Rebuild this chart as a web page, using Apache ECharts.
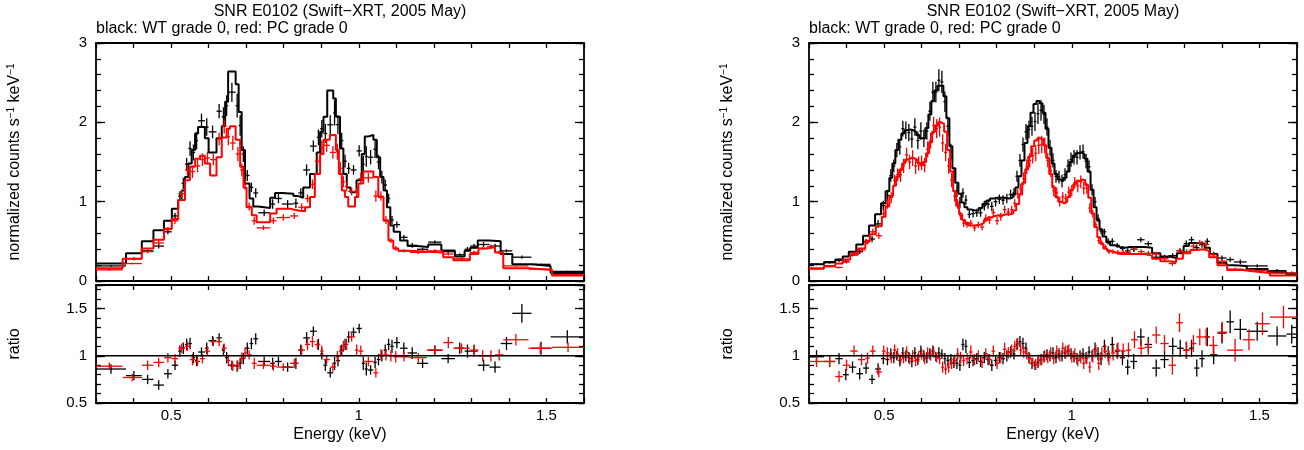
<!DOCTYPE html>
<html><head><meta charset="utf-8">
<script src="https://cdn.jsdelivr.net/npm/echarts@6/dist/echarts.min.js"></script>
<style>html,body{margin:0;padding:0;background:#fff}#c{width:1304px;height:450px}</style>
</head><body><div id="c"></div>
<script>
// ---------- texts ----------
const titleText = 'SNR E0102 (Swift\u2212XRT, 2005 May)';
const subtitleText = 'black: WT grade 0, red: PC grade 0';
const xTitle = 'Energy (keV)';
const yTitleTop = 'normalized counts s{sup|\u22121} keV{sup|\u22121}';
const yTitleBot = 'ratio';
const xTickLabels = [0.5, 1, 1.5];
const yTopTickLabels = [0, 1, 2, 3];
const yRatioTickLabels = [0.5, 1, 1.5];
const ratioUnity = 1;

// ---------- left panel, black (WT) ----------
const lbE = [0.340,0.401,0.4375,0.467,0.4915,0.5105,0.5235,0.5325,0.5415,0.5505,
 0.5595,0.568,0.581,0.595,0.6105,0.628,0.6395,0.648,0.662,0.676,
 0.684,0.6925,0.703,0.714,0.7255,0.748,0.7705,0.786,0.8105,0.8325,
 0.8455,0.861,0.879,0.8925,0.9015,0.911,0.924,0.9355,0.9445,0.9545,
 0.9635,0.973,0.986,1.001,1.012,1.020,1.0315,1.0435,1.0525,1.0615,
 1.0705,1.0795,1.0885,1.1015,1.120,1.1425,1.170,1.2025,1.238,1.269,
 1.2895,1.307,1.3325,1.363,1.3935,1.4345,1.4855,1.5555];
const lbW = [0.040,0.021,0.0155,0.014,0.0105,0.0085,0.0045,0.0045,0.0045,0.0045,
 0.0045,0.004,0.009,0.005,0.0105,0.007,0.0045,0.004,0.010,0.004,
 0.004,0.0045,0.006,0.005,0.0065,0.016,0.0065,0.009,0.0155,0.0065,
 0.0065,0.009,0.009,0.0045,0.0045,0.005,0.008,0.0035,0.0055,0.0045,
 0.0045,0.005,0.008,0.007,0.004,0.004,0.0075,0.0045,0.0045,0.0045,
 0.0045,0.0045,0.0045,0.0085,0.010,0.0125,0.015,0.0175,0.018,0.013,
 0.0075,0.010,0.0155,0.015,0.0155,0.0255,0.0255,0.0445];
const lbModel = [0.22,0.35,0.50,0.64,0.76,0.91,1.02,1.14,1.31,1.48,
 1.65,1.86,1.94,1.80,1.62,1.80,1.95,2.26,2.64,2.48,
 2.13,1.65,1.23,1.04,0.94,0.92,1.05,1.11,1.10,1.07,
 1.05,1.18,1.35,1.62,1.88,2.07,2.40,2.30,2.07,1.67,
 1.35,1.18,1.12,1.27,1.60,1.82,1.84,1.78,1.56,1.31,
 1.14,0.93,0.70,0.62,0.51,0.44,0.43,0.46,0.385,0.31,
 0.38,0.42,0.51,0.50,0.34,0.21,0.19,0.10];
const lbData = [0.19,0.28,0.38,0.44,0.62,0.82,1.07,1.23,1.47,1.67,
 1.62,1.77,2.02,1.94,1.88,2.14,2.07,2.21,2.38,2.21,
 1.96,1.60,1.33,1.18,1.11,0.86,0.97,1.04,0.97,0.98,
 1.11,1.40,1.70,1.81,1.92,1.86,1.97,2.12,1.97,1.77,
 1.51,1.42,1.40,1.64,1.47,1.57,1.56,1.66,1.50,1.31,
 1.21,1.04,0.77,0.71,0.55,0.45,0.40,0.49,0.37,0.33,
 0.40,0.44,0.46,0.44,0.38,0.30,0.21,0.12];
const lbErr = [0.01,0.02,0.02,0.03,0.03,0.04,0.06,0.07,0.08,0.09,
 0.10,0.11,0.09,0.11,0.08,0.09,0.12,0.13,0.12,0.15,
 0.13,0.10,0.07,0.06,0.06,0.04,0.06,0.06,0.05,0.06,
 0.06,0.07,0.07,0.10,0.11,0.12,0.12,0.16,0.12,0.10,
 0.08,0.07,0.06,0.07,0.11,0.13,0.09,0.11,0.09,0.08,
 0.07,0.06,0.05,0.04,0.03,0.03,0.02,0.02,0.02,0.02,
 0.03,0.03,0.03,0.03,0.02,0.02,0.01,0.01];
const lbRatio = [0.86,0.79,0.75,0.69,0.81,0.90,1.05,1.08,1.12,1.13,
 0.98,0.95,1.04,1.08,1.16,1.19,1.06,0.98,0.90,0.89,
 0.92,0.97,1.08,1.13,1.18,0.94,0.92,0.94,0.88,0.92,
 1.06,1.19,1.26,1.12,1.02,0.90,0.82,0.92,0.95,1.06,
 1.12,1.20,1.25,1.29,0.92,0.86,0.85,0.93,0.96,1.00,
 1.06,1.12,1.10,1.14,1.08,1.03,0.92,1.06,0.97,1.08,
 1.05,1.05,0.90,0.88,1.13,1.45,1.08,1.20];
const lbRatioErr = [0.05,0.05,0.05,0.05,0.05,0.05,0.06,0.06,0.06,0.06,
 0.06,0.06,0.05,0.06,0.05,0.05,0.06,0.06,0.05,0.06,
 0.06,0.06,0.06,0.06,0.06,0.05,0.06,0.05,0.05,0.06,
 0.06,0.06,0.05,0.06,0.06,0.06,0.05,0.07,0.06,0.06,
 0.06,0.06,0.05,0.05,0.07,0.07,0.05,0.06,0.06,0.06,
 0.06,0.06,0.07,0.06,0.06,0.06,0.05,0.05,0.05,0.06,
 0.07,0.06,0.06,0.06,0.07,0.10,0.07,0.07];

// ---------- left panel, red (PC) ----------
const lrE = [0.3355,0.3965,0.4375,0.467,0.4915,0.5105,0.528,0.5435,0.557,0.5705,
 0.5835,0.597,0.6125,0.628,0.6415,0.6525,0.6645,0.678,0.6885,0.697,
 0.708,0.7215,0.746,0.7725,0.799,0.828,0.848,0.8635,0.8765,0.890,
 0.9015,0.9145,0.931,0.943,0.951,0.959,0.9675,0.981,0.9945,1.0055,
 1.0255,1.0455,1.059,1.0725,1.0855,1.0985,1.1205,1.1585,1.203,1.2385,
 1.274,1.3075,1.330,1.352,1.374,1.4185,1.4835,1.5575];
const lrW = [0.0355,0.0255,0.0155,0.014,0.0105,0.0085,0.009,0.0065,0.007,0.0065,
 0.0065,0.007,0.0085,0.007,0.0065,0.0045,0.0075,0.006,0.0045,0.004,
 0.007,0.0065,0.018,0.0085,0.018,0.011,0.009,0.0065,0.0065,0.007,
 0.0045,0.0085,0.008,0.004,0.004,0.004,0.0045,0.009,0.0045,0.0065,
 0.0135,0.0065,0.007,0.0065,0.0065,0.0065,0.0155,0.0225,0.022,0.0135,
 0.022,0.0115,0.011,0.011,0.011,0.0335,0.0315,0.0425];
const lrModel = [0.16,0.28,0.41,0.52,0.66,0.78,1.02,1.27,1.44,1.54,
 1.58,1.48,1.33,1.56,1.81,1.92,1.95,1.78,1.44,1.18,
 0.93,0.83,0.74,0.85,0.91,0.89,0.88,0.93,1.06,1.35,
 1.60,1.78,1.84,1.65,1.35,1.14,1.06,0.94,1.06,1.23,
 1.38,1.31,1.06,0.76,0.51,0.41,0.38,0.37,0.36,0.30,
 0.26,0.34,0.41,0.43,0.36,0.16,0.14,0.07];
const lrData = [0.14,0.22,0.37,0.48,0.65,0.76,1.10,1.40,1.38,1.45,
 1.53,1.55,1.53,1.79,1.95,1.82,1.74,1.60,1.40,1.22,
 0.94,0.76,0.67,0.76,0.80,0.82,0.93,1.04,1.22,1.51,
 1.68,1.71,1.62,1.63,1.42,1.25,1.19,1.13,1.12,1.29,
 1.30,1.07,1.07,0.77,0.51,0.41,0.38,0.36,0.38,0.34,
 0.28,0.36,0.41,0.43,0.36,0.19,0.15,0.08];
const lrErr = [0.01,0.01,0.02,0.03,0.03,0.04,0.05,0.07,0.08,0.08,
 0.08,0.08,0.07,0.08,0.09,0.11,0.09,0.09,0.08,0.07,
 0.05,0.05,0.03,0.04,0.04,0.04,0.05,0.05,0.06,0.07,
 0.09,0.08,0.08,0.10,0.08,0.07,0.06,0.05,0.06,0.07,
 0.06,0.07,0.06,0.05,0.03,0.03,0.02,0.02,0.02,0.02,
 0.02,0.02,0.02,0.03,0.02,0.01,0.01,0.01];
const lrRatio = [0.89,0.77,0.90,0.93,0.98,0.97,1.08,1.10,0.96,0.94,
 0.97,1.05,1.15,1.15,1.08,0.95,0.89,0.90,0.975,1.03,
 1.01,0.92,0.90,0.89,0.88,0.92,1.06,1.12,1.15,1.12,
 1.05,0.96,0.88,0.99,1.05,1.10,1.12,1.20,1.06,1.05,
 0.94,0.82,1.01,1.01,1.00,0.99,0.99,0.98,1.06,1.14,
 1.08,1.06,1.00,1.00,1.01,1.17,1.08,1.09];
const lrRatioErr = [0.04,0.04,0.05,0.05,0.05,0.05,0.05,0.05,0.06,0.05,
 0.05,0.05,0.05,0.05,0.05,0.06,0.05,0.05,0.06,0.06,
 0.05,0.06,0.04,0.05,0.04,0.05,0.05,0.06,0.06,0.05,
 0.06,0.05,0.05,0.06,0.06,0.06,0.06,0.05,0.06,0.06,
 0.05,0.05,0.06,0.06,0.06,0.06,0.05,0.05,0.05,0.06,
 0.05,0.06,0.06,0.06,0.06,0.06,0.06,0.05];

// ---------- right panel, black (WT) ----------
const rbE = [0.320,0.355,0.380,0.398,0.416,0.435,0.452,0.468,0.484,0.498,
 0.509,0.518,0.526,0.534,0.542,0.550,0.558,0.566,0.574,0.582,
 0.590,0.598,0.606,0.614,0.622,0.630,0.638,0.646,0.654,0.662,
 0.670,0.678,0.686,0.694,0.702,0.710,0.718,0.727,0.737,0.747,
 0.757,0.767,0.777,0.787,0.797,0.807,0.817,0.827,0.837,0.846,
 0.854,0.862,0.870,0.878,0.886,0.894,0.902,0.910,0.918,0.926,
 0.934,0.942,0.950,0.958,0.966,0.974,0.982,0.990,0.998,1.006,
 1.014,1.022,1.030,1.038,1.046,1.054,1.062,1.070,1.078,1.087,
 1.097,1.108,1.121,1.135,1.149,1.165,1.184,1.204,1.225,1.247,
 1.269,1.289,1.305,1.319,1.333,1.347,1.361,1.378,1.400,1.422,
 1.449,1.494,1.547,1.586];
const rbW = [0.020,0.015,0.010,0.008,0.010,0.009,0.008,0.008,0.008,0.006,
 0.005,0.004,0.004,0.004,0.004,0.004,0.004,0.004,0.004,0.004,
 0.004,0.004,0.004,0.004,0.004,0.004,0.004,0.004,0.004,0.004,
 0.004,0.004,0.004,0.004,0.004,0.004,0.004,0.005,0.005,0.005,
 0.005,0.005,0.005,0.005,0.005,0.005,0.005,0.005,0.005,0.004,
 0.004,0.004,0.004,0.004,0.004,0.004,0.004,0.004,0.004,0.004,
 0.004,0.004,0.004,0.004,0.004,0.004,0.004,0.004,0.004,0.004,
 0.004,0.004,0.004,0.004,0.004,0.004,0.004,0.004,0.004,0.005,
 0.005,0.006,0.007,0.007,0.007,0.009,0.010,0.010,0.011,0.011,
 0.011,0.009,0.007,0.007,0.007,0.007,0.007,0.010,0.012,0.010,
 0.017,0.028,0.025,0.014];
const rbModel = [0.21,0.24,0.27,0.31,0.37,0.46,0.57,0.70,0.84,0.98,
 1.13,1.30,1.48,1.65,1.78,1.86,1.90,1.91,1.90,1.88,
 1.84,1.80,1.80,1.93,2.10,2.27,2.40,2.46,2.46,2.33,
 2.05,1.70,1.42,1.24,1.10,0.99,0.93,0.90,0.89,0.89,
 0.92,0.97,1.01,1.04,1.05,1.05,1.05,1.04,1.05,1.09,
 1.18,1.32,1.52,1.74,1.95,2.12,2.23,2.27,2.24,2.12,
 1.92,1.68,1.48,1.35,1.28,1.26,1.30,1.38,1.50,1.58,
 1.61,1.62,1.60,1.54,1.38,1.15,0.93,0.77,0.65,0.56,
 0.49,0.45,0.43,0.42,0.43,0.43,0.43,0.42,0.35,0.31,
 0.29,0.35,0.44,0.48,0.48,0.47,0.42,0.34,0.23,0.20,
 0.19,0.15,0.11,0.08];
const rbData = [0.21,0.23,0.26,0.25,0.33,0.37,0.50,0.53,0.72,0.95,
 1.08,1.33,1.45,1.65,1.69,1.92,1.90,1.87,1.79,1.94,
 1.77,1.89,1.80,1.89,2.14,2.38,2.38,2.53,2.51,2.26,
 1.95,1.63,1.32,1.14,0.99,1.11,1.02,0.84,0.85,0.86,
 0.86,0.95,0.97,0.94,1.00,1.03,1.02,1.04,1.09,1.11,
 1.32,1.52,1.72,1.88,1.91,1.95,2.01,2.11,2.15,2.10,
 1.94,1.68,1.52,1.32,1.31,1.26,1.34,1.45,1.53,1.56,
 1.56,1.62,1.63,1.51,1.44,1.15,1.00,0.79,0.63,0.62,
 0.50,0.50,0.45,0.41,0.38,0.40,0.52,0.47,0.30,0.30,
 0.32,0.38,0.47,0.52,0.42,0.46,0.50,0.34,0.29,0.27,
 0.24,0.19,0.13,0.10];
const rbErr = [0.01,0.01,0.02,0.02,0.02,0.03,0.03,0.04,0.05,0.06,
 0.07,0.08,0.08,0.09,0.10,0.10,0.11,0.11,0.11,0.11,
 0.11,0.11,0.11,0.11,0.12,0.13,0.13,0.14,0.14,0.13,
 0.12,0.10,0.09,0.08,0.07,0.06,0.06,0.05,0.05,0.05,
 0.05,0.06,0.06,0.06,0.06,0.06,0.06,0.06,0.06,0.06,
 0.07,0.08,0.09,0.10,0.11,0.12,0.12,0.13,0.13,0.12,
 0.11,0.10,0.09,0.08,0.08,0.08,0.08,0.08,0.09,0.09,
 0.09,0.09,0.09,0.09,0.08,0.07,0.06,0.05,0.04,0.04,
 0.04,0.04,0.03,0.03,0.03,0.03,0.03,0.03,0.03,0.03,
 0.03,0.03,0.04,0.04,0.04,0.04,0.04,0.03,0.03,0.03,
 0.03,0.02,0.02,0.02];
const rbRatio = [0.99,0.94,0.97,0.80,0.88,0.81,0.87,0.75,0.86,0.97,
 0.96,1.02,0.98,1.00,0.95,1.03,1.00,0.98,0.94,1.03,
 0.96,1.05,1.00,0.98,1.02,1.05,0.99,1.03,1.02,0.97,
 0.95,0.96,0.93,0.92,0.90,1.12,1.10,0.93,0.95,0.97,
 0.94,0.98,0.96,0.90,0.95,0.98,0.97,1.00,1.04,1.02,
 1.12,1.15,1.13,1.08,0.98,0.92,0.90,0.93,0.96,0.99,
 1.01,1.00,1.03,0.98,1.02,1.00,1.03,1.05,1.02,0.99,
 0.97,1.00,1.02,0.98,1.04,1.00,1.07,1.02,0.97,1.10,
 1.02,1.12,1.05,0.98,0.88,0.94,1.20,1.12,0.87,0.96,
 1.10,1.08,1.06,1.08,0.87,0.97,1.20,1.01,1.24,1.36,
 1.28,1.26,1.21,1.23];
const rbRatioErr = [0.07,0.06,0.06,0.06,0.06,0.06,0.06,0.05,0.06,0.06,
 0.06,0.06,0.06,0.05,0.06,0.06,0.06,0.06,0.06,0.06,
 0.06,0.06,0.06,0.06,0.06,0.06,0.05,0.06,0.05,0.06,
 0.06,0.06,0.06,0.06,0.06,0.06,0.07,0.06,0.06,0.06,
 0.06,0.06,0.06,0.06,0.06,0.06,0.06,0.06,0.06,0.06,
 0.06,0.06,0.06,0.06,0.06,0.06,0.05,0.06,0.06,0.06,
 0.06,0.06,0.06,0.06,0.06,0.06,0.06,0.06,0.06,0.06,
 0.06,0.06,0.06,0.06,0.06,0.06,0.07,0.07,0.07,0.07,
 0.08,0.08,0.08,0.08,0.08,0.08,0.09,0.08,0.09,0.09,
 0.09,0.09,0.09,0.09,0.09,0.09,0.10,0.10,0.11,0.12,
 0.11,0.10,0.10,0.10];

// ---------- right panel, red (PC) ----------
const rrE = [0.320,0.355,0.380,0.400,0.420,0.440,0.456,0.470,0.486,0.499,
 0.509,0.519,0.528,0.536,0.544,0.552,0.560,0.568,0.576,0.584,
 0.592,0.600,0.608,0.616,0.624,0.632,0.640,0.648,0.656,0.664,
 0.672,0.680,0.688,0.696,0.704,0.712,0.721,0.731,0.741,0.751,
 0.761,0.771,0.781,0.791,0.801,0.811,0.821,0.831,0.840,0.848,
 0.856,0.864,0.872,0.880,0.888,0.896,0.904,0.912,0.920,0.928,
 0.936,0.944,0.952,0.960,0.968,0.976,0.984,0.992,1.000,1.008,
 1.016,1.024,1.032,1.040,1.048,1.056,1.064,1.072,1.080,1.089,
 1.099,1.110,1.123,1.137,1.151,1.167,1.185,1.204,1.225,1.247,
 1.268,1.287,1.306,1.324,1.341,1.358,1.377,1.401,1.435,1.472,
 1.508,1.564];
const rrW = [0.020,0.015,0.010,0.010,0.010,0.010,0.006,0.008,0.008,0.005,
 0.005,0.005,0.004,0.004,0.004,0.004,0.004,0.004,0.004,0.004,
 0.004,0.004,0.004,0.004,0.004,0.004,0.004,0.004,0.004,0.004,
 0.004,0.004,0.004,0.004,0.004,0.004,0.005,0.005,0.005,0.005,
 0.005,0.005,0.005,0.005,0.005,0.005,0.005,0.005,0.004,0.004,
 0.004,0.004,0.004,0.004,0.004,0.004,0.004,0.004,0.004,0.004,
 0.004,0.004,0.004,0.004,0.004,0.004,0.004,0.004,0.004,0.004,
 0.004,0.004,0.004,0.004,0.004,0.004,0.004,0.004,0.004,0.005,
 0.005,0.006,0.007,0.007,0.007,0.009,0.009,0.010,0.011,0.011,
 0.010,0.009,0.010,0.008,0.009,0.008,0.011,0.013,0.021,0.016,
 0.020,0.036];
const rrModel = [0.16,0.19,0.22,0.27,0.33,0.41,0.50,0.59,0.69,0.81,
 0.94,1.07,1.20,1.31,1.40,1.48,1.53,1.55,1.55,1.53,
 1.49,1.46,1.50,1.61,1.75,1.88,1.96,2.00,1.98,1.88,
 1.65,1.38,1.13,0.95,0.84,0.77,0.73,0.70,0.70,0.71,
 0.73,0.77,0.80,0.82,0.83,0.83,0.84,0.84,0.85,0.89,
 0.97,1.09,1.24,1.41,1.57,1.70,1.77,1.80,1.79,1.71,
 1.55,1.35,1.18,1.06,1.00,0.98,1.00,1.06,1.15,1.22,
 1.26,1.28,1.27,1.21,1.05,0.85,0.68,0.55,0.47,0.41,
 0.38,0.36,0.34,0.34,0.34,0.34,0.34,0.32,0.28,0.25,
 0.24,0.28,0.35,0.39,0.40,0.38,0.30,0.20,0.14,0.12,
 0.10,0.07];
const rrData = [0.15,0.18,0.17,0.24,0.35,0.39,0.49,0.62,0.57,0.85,
 0.97,1.05,1.27,1.34,1.34,1.45,1.59,1.50,1.55,1.45,
 1.48,1.49,1.46,1.66,1.77,1.96,1.92,1.94,1.74,1.62,
 1.45,1.27,1.07,0.97,0.82,0.73,0.71,0.73,0.67,0.71,
 0.68,0.79,0.77,0.86,0.76,0.81,0.90,0.87,0.90,0.98,
 1.10,1.16,1.29,1.44,1.52,1.58,1.61,1.71,1.72,1.71,
 1.52,1.39,1.14,1.11,1.00,1.06,1.04,1.12,1.14,1.24,
 1.20,1.25,1.17,1.17,0.92,0.85,0.71,0.51,0.48,0.43,
 0.37,0.37,0.36,0.36,0.36,0.40,0.37,0.35,0.34,0.28,
 0.22,0.38,0.37,0.44,0.48,0.46,0.33,0.25,0.15,0.14,
 0.13,0.10];
const rrErr = [0.01,0.01,0.01,0.02,0.02,0.03,0.03,0.04,0.04,0.05,
 0.06,0.07,0.07,0.08,0.09,0.09,0.09,0.09,0.10,0.10,
 0.09,0.09,0.09,0.10,0.10,0.11,0.12,0.12,0.11,0.11,
 0.10,0.09,0.07,0.06,0.05,0.05,0.04,0.04,0.04,0.04,
 0.04,0.05,0.05,0.05,0.05,0.05,0.05,0.05,0.05,0.05,
 0.06,0.07,0.08,0.09,0.09,0.10,0.10,0.11,0.11,0.10,
 0.09,0.08,0.07,0.07,0.06,0.06,0.06,0.07,0.07,0.07,
 0.08,0.08,0.08,0.07,0.06,0.05,0.04,0.04,0.03,0.03,
 0.03,0.03,0.03,0.03,0.03,0.03,0.03,0.03,0.03,0.03,
 0.03,0.03,0.03,0.04,0.04,0.04,0.03,0.03,0.02,0.02,
 0.02,0.01];
const rrRatio = [0.94,0.94,0.78,0.90,1.05,0.96,0.975,1.05,0.83,1.05,
 1.03,0.98,1.06,1.02,0.96,0.98,1.04,0.97,1.00,0.95,
 0.99,1.02,0.97,1.03,1.01,1.04,0.98,0.97,0.88,0.86,
 0.88,0.92,0.95,1.02,0.98,0.95,0.97,1.04,0.96,1.00,
 0.93,1.02,0.96,1.05,0.92,0.98,1.07,1.03,1.06,1.10,
 1.13,1.06,1.04,1.02,0.97,0.93,0.91,0.95,0.96,1.00,
 0.98,1.03,0.97,1.05,1.00,1.08,1.04,1.06,0.99,1.02,
 0.95,0.98,0.92,0.97,0.88,1.00,1.05,0.92,1.02,1.05,
 0.98,1.03,1.06,1.05,1.06,1.17,1.08,1.09,1.22,1.13,
 0.90,1.35,1.06,1.13,1.20,1.20,1.11,1.25,1.06,1.17,
 1.34,1.41];
const rrRatioErr = [0.06,0.06,0.06,0.06,0.06,0.06,0.06,0.06,0.06,0.06,
 0.06,0.06,0.06,0.06,0.05,0.06,0.06,0.06,0.06,0.06,
 0.06,0.06,0.06,0.06,0.06,0.06,0.05,0.06,0.06,0.06,
 0.06,0.06,0.06,0.06,0.06,0.06,0.06,0.07,0.06,0.06,
 0.06,0.06,0.06,0.06,0.06,0.06,0.07,0.06,0.06,0.06,
 0.06,0.06,0.06,0.06,0.06,0.05,0.06,0.06,0.06,0.06,
 0.06,0.06,0.06,0.06,0.06,0.06,0.07,0.06,0.06,0.06,
 0.06,0.06,0.06,0.06,0.06,0.07,0.07,0.07,0.07,0.07,
 0.08,0.08,0.08,0.08,0.08,0.09,0.09,0.09,0.09,0.09,
 0.10,0.10,0.09,0.09,0.09,0.09,0.10,0.11,0.12,0.11,
 0.12,0.12];

// ---------- build ----------
const FONT = '"Liberation Sans", Arial, Helvetica, sans-serif';
const BLACK = '#000000', RED = '#ff0000';
const X_MIN = 0.3, X_MAX = 1.6;

function near(v, list) { for (const t of list) { if (Math.abs(v - t) < 1e-6) return String(t); } return ''; }

function stepPoints(E, W, M) {
  const pts = [];
  for (let i = 0; i < E.length; i++) { pts.push([E[i] - W[i], M[i]], [E[i] + W[i], M[i]]); }
  return pts;
}
function crossRows(E, W, V, Er) { return E.map((e, i) => [e, W[i], V[i], Er[i]]); }
function crossRenderer(color, lw) {
  return function (params, api) {
    const e = api.value(0), w = api.value(1), v = api.value(2), er = api.value(3);
    const a = api.coord([e - w, v]), b = api.coord([e + w, v]);
    const c = api.coord([e, v + er]), d = api.coord([e, v - er]);
    const st = { stroke: color, lineWidth: lw, fill: null };
    return { type: 'group', children: [
      { type: 'line', shape: { x1: a[0], y1: a[1], x2: b[0], y2: b[1] }, style: st },
      { type: 'line', shape: { x1: c[0], y1: c[1], x2: d[0], y2: d[1] }, style: st }
    ]};
  };
}

const grids = [
  { left: 96, top: 43, width: 488, height: 238 },
  { left: 96, top: 285, width: 488, height: 118 },
  { left: 809, top: 43, width: 488, height: 238 },
  { left: 809, top: 285, width: 488, height: 118 }
].map(g => Object.assign({ containLabel: false, outerBoundsMode: 'none' }, g));

const frameLine = { show: true, onZero: false, lineStyle: { color: BLACK, width: 1.8 } };
const xAxes = [], yAxes = [];
for (let g = 0; g < 4; g++) {
  const isBottom = (g % 2 === 1);
  const base = { type: 'value', gridIndex: g, min: X_MIN, max: X_MAX, interval: 0.1,
    splitLine: { show: false }, axisLine: frameLine,
    axisTick: { show: true, inside: true, length: 5, lineStyle: { color: BLACK, width: 1.3 } } };
  xAxes.push(Object.assign({}, base, { position: 'bottom',
    axisLabel: { show: isBottom, interval: 0, margin: 5, color: BLACK, fontSize: 15, fontFamily: FONT,
      formatter: v => near(v, xTickLabels) } }));
  xAxes.push(Object.assign({}, base, { position: 'top', axisLabel: { show: false } }));

  const min = isBottom ? 0.5 : 0, max = isBottom ? 1.75 : 3;
  const major = isBottom ? 0.5 : 1, minor = isBottom ? 0.1 : 0.2;
  const labels = isBottom ? yRatioTickLabels : yTopTickLabels;
  const common = { type: 'value', gridIndex: g, min: min, max: max, splitLine: { show: false } };
  const tickStyle = { color: BLACK, width: 1.3 };
  yAxes.push(Object.assign({}, common, { position: 'left', interval: major, axisLine: frameLine,
    axisTick: { inside: true, length: 9, lineStyle: tickStyle },
    axisLabel: { show: true, margin: 9, color: BLACK, fontSize: 15, fontFamily: FONT, formatter: v => near(v, labels) } }));
  yAxes.push(Object.assign({}, common, { position: 'left', interval: minor, axisLine: { show: false },
    axisTick: { inside: true, length: 5, lineStyle: tickStyle }, axisLabel: { show: false } }));
  yAxes.push(Object.assign({}, common, { position: 'right', interval: major, axisLine: frameLine,
    axisTick: { inside: true, length: 9, lineStyle: tickStyle }, axisLabel: { show: false } }));
  yAxes.push(Object.assign({}, common, { position: 'right', interval: minor, axisLine: { show: false },
    axisTick: { inside: true, length: 5, lineStyle: tickStyle }, axisLabel: { show: false } }));
}

const panels = [
  { black: [lbE, lbW, lbModel, lbData, lbErr, lbRatio, lbRatioErr],
    red:   [lrE, lrW, lrModel, lrData, lrErr, lrRatio, lrRatioErr] },
  { black: [rbE, rbW, rbModel, rbData, rbErr, rbRatio, rbRatioErr],
    red:   [rrE, rrW, rrModel, rrData, rrErr, rrRatio, rrRatioErr] }
];

const series = [];
panels.forEach((p, pi) => {
  const gTop = pi * 2, gBot = pi * 2 + 1;
  const add = (arr, color, z) => {
    const [E, W, M, D, Er, R, Rer] = arr;
    series.push({ type: 'custom', xAxisIndex: gTop * 2, yAxisIndex: gTop * 4, clip: true, silent: true, z: z,
      renderItem: crossRenderer(color, 1.3), encode: { x: 0, y: 2 }, data: crossRows(E, W, D, Er) });
    series.push({ type: 'line', xAxisIndex: gTop * 2, yAxisIndex: gTop * 4, clip: true, silent: true, z: z + 1,
      symbol: 'none', showSymbol: false, lineStyle: { color: color, width: 2 }, data: stepPoints(E, W, M) });
    series.push({ type: 'custom', xAxisIndex: gBot * 2, yAxisIndex: gBot * 4, clip: true, silent: true, z: z,
      renderItem: crossRenderer(color, 1.3), encode: { x: 0, y: 2 }, data: crossRows(E, W, R, Rer) });
  };
  add(p.black, BLACK, 2);
  add(p.red, RED, 4);
  series.push({ type: 'line', xAxisIndex: gBot * 2, yAxisIndex: gBot * 4, silent: true, z: 6,
    symbol: 'none', lineStyle: { color: BLACK, width: 1.6 },
    data: [[X_MIN, ratioUnity], [X_MAX, ratioUnity]] });
});

function txt(x, y, text, align, extra) {
  return Object.assign({ type: 'text', x: x, y: y, silent: true,
    style: { text: text, fill: BLACK, fontSize: 16, fontFamily: FONT,
      align: align, textAlign: align, verticalAlign: 'middle', textVerticalAlign: 'middle' } }, extra || {});
}
function vtxt(x, y, text) {
  const t = txt(x, y, text, 'center', { rotation: Math.PI / 2 });
  t.style.rich = { sup: { fontSize: 10, fontFamily: FONT, fill: BLACK, verticalAlign: 'top', lineHeight: 10 } };
  t.style.lineHeight = 18;
  return t;
}
const graphic = [];
[[340, 96, 15], [1053, 809, 728]].forEach(([cx, lx, yx]) => {
  graphic.push(txt(cx, 12, titleText, 'center'));
  graphic.push(txt(lx, 29, subtitleText, 'left'));
  graphic.push(txt(cx, 435, xTitle, 'center'));
  graphic.push(vtxt(yx, 162, yTitleTop));
  graphic.push(vtxt(yx, 344, yTitleBot));
});

const chart = echarts.init(document.getElementById('c'), null, { renderer: 'canvas' });
chart.setOption({
  animation: false,
  backgroundColor: '#ffffff',
  grid: grids,
  xAxis: xAxes,
  yAxis: yAxes,
  series: series,
  graphic: graphic
});
</script>
</body></html>
